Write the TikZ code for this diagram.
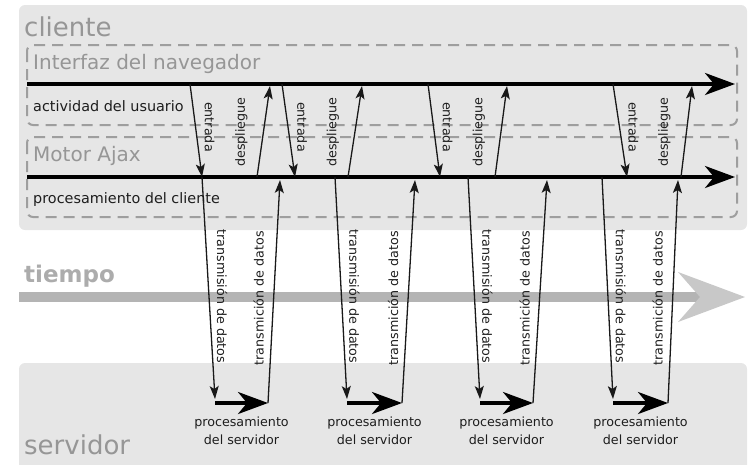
\documentclass[tikz,border=0pt]{standalone}
\usepackage{fontspec}
\setmainfont{DejaVu Sans}
\usetikzlibrary{arrows.meta,calc}
\definecolor{boxgray}{RGB}{230,230,230}
\definecolor{titlegray}{RGB}{150,150,150}
\definecolor{timegray}{RGB}{172,172,172}
\definecolor{dashgray}{RGB}{158,158,158}
\definecolor{bandgray}{RGB}{180,180,180}
\definecolor{headgray}{RGB}{200,200,200}
\definecolor{textdark}{RGB}{30,30,30}
\definecolor{linedark}{RGB}{25,25,25}
\tikzset{
  bigtitle/.style={text=titlegray, font=\fontsize{26}{30}\selectfont, anchor=base west, inner sep=0pt},
  subtitle/.style={text=titlegray, font=\fontsize{20}{24}\selectfont, anchor=base west, inner sep=0pt},
  lanetext/.style={text=textdark, font=\fontsize{14.4}{17}\selectfont, anchor=base west, inner sep=0pt},
  lbl/.style={text=textdark, font=\fontsize{12.7}{18}\selectfont, inner sep=0pt},
  thickarrow/.style={draw=black, line width=3.5pt, -{Stealth[length=30pt,width=22pt,inset=9pt]}},
  thinarrow/.style={draw=linedark, line width=1.3pt, -{Stealth[length=13pt,width=9pt,inset=3pt]}},
  dashbox/.style={draw=dashgray, line width=2pt, dash pattern=on 11pt off 7pt, rounded corners=6pt},
}
\begin{document}
\begin{tikzpicture}[x=1pt,y=-1pt]
\useasboundingbox (0,0) rectangle (751,464);
% backgrounds
\fill[boxgray, rounded corners=6pt] (19,5) rectangle (747,230);
\begin{scope}
  \clip (0,0) rectangle (751,464);
  \fill[boxgray, rounded corners=6pt] (19,363) rectangle (747,480);
\end{scope}
% time arrow
\fill[bandgray] (19,292) rectangle (702,302);
\fill[headgray] (678,272) -- (745,297) -- (678,322) -- (700,297) -- cycle;
\node[text=timegray, font=\bfseries\fontsize{23}{27}\selectfont, anchor=base west, inner sep=0pt] (tiempo) at (24,282) {tiempo};
% dashed boxes
\draw[dashbox] (27,45) rectangle (737,125);
\draw[dashbox] (27,137) rectangle (737,217);
% titles
\node[bigtitle] (cliente) at (24,36) {cliente};
\node[bigtitle] (servidor) at (24,454) {servidor};
\node[subtitle] (interfaz) at (33,69.6) {Interfaz del navegador};
\node[subtitle] (motor) at (33,161.6) {Motor Ajax};
\node[lanetext] (actividad) at (33,111) {actividad del usuario};
\node[lanetext] (proccli) at (33,203) {procesamiento del cliente};
% main time lines
\coordinate (ua) at (27,84);  \coordinate (ub) at (735,84);
\coordinate (ca) at (27,177); \coordinate (cb) at (735,177);
\draw[thickarrow] (ua) -- (ub);
\draw[thickarrow] (ca) -- (cb);
% request groups
\foreach \i/\ea/\eb/\da/\db/\ta/\tb/\hb/\ub in {%
  1/190/202/257/270/202/215/268/280,
  2/282/295/348/362/335/347/402/415,
  3/428/440/495/507/468/480/533/547,
  4/613/627/681/692/602/613/668/678}{
  \coordinate (e\i a) at (\ea,84);  \coordinate (e\i b) at (\eb,177);
  \coordinate (d\i a) at (\da,177); \coordinate (d\i b) at (\db,86);
  \coordinate (t\i a) at (\ta,177); \coordinate (t\i b) at (\tb,399);
  \coordinate (h\i a) at (\tb,403); \coordinate (h\i b) at (\hb,403);
  \coordinate (u\i a) at (\hb,403); \coordinate (u\i b) at (\ub,180);
  \draw[thinarrow] (e\i a) -- (e\i b);
  \draw[thinarrow] (d\i a) -- (d\i b);
  \draw[thinarrow] (t\i a) -- (t\i b);
  \draw[thickarrow] (h\i a) -- (h\i b);
  \draw[thinarrow] (u\i a) -- (u\i b);
  \node[lbl, rotate=-90] (le\i) at ($(e\i a)!0.462!(e\i b)+(14,0)$) {entrada};
  \node[lbl, rotate=90] (ld\i) at ($(d\i a)!0.495!(d\i b)+(-22,0)$) {despliegue};
  \node[lbl, rotate=-90] (lt\i) at ($(t\i a)!0.538!(t\i b)+(13,0)$) {transmisión de datos};
  \node[lbl, rotate=90] (lu\i) at ($(u\i a)!0.47!(u\i b)+(-15,0)$) {transmición de datos};
  \node[lbl, align=center] (ps\i) at ($(h\i a)!0.5!(h\i b)+(0,28)$) {procesamiento\\del servidor};
}
\end{tikzpicture}
\end{document}
